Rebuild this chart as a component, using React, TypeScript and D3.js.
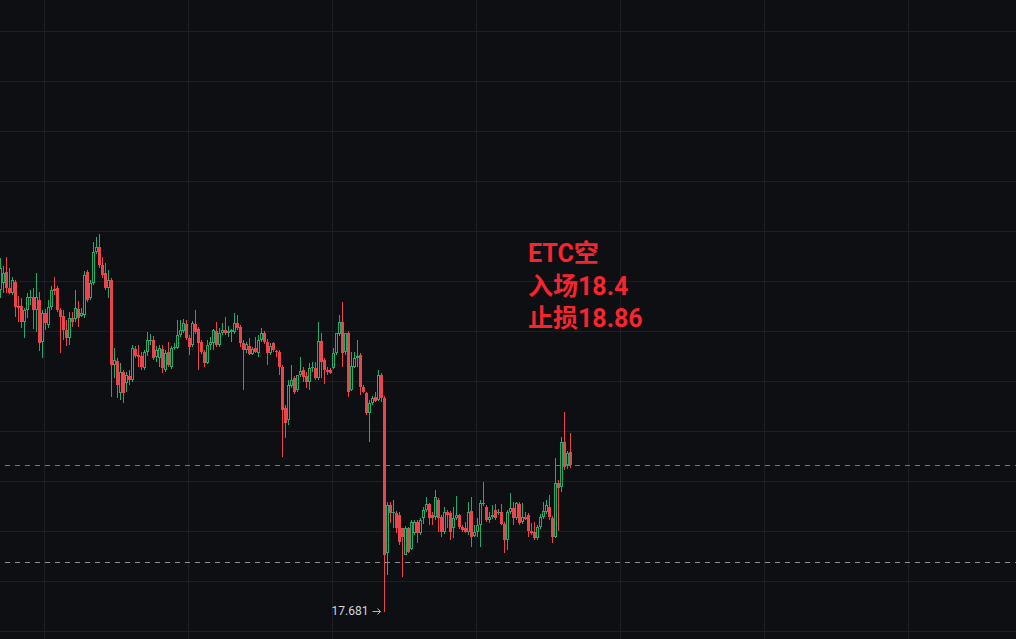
import React from "react";
import * as d3 from "d3";

const opens = [19.29,19.325,19.38,19.30,19.275,19.33,19.21,19.21,19.13,19.19,
19.25,19.255,19.19,19.24,19.03,19.175,19.115,19.205,19.295,19.30,
19.19,19.16,19.09,19.05,19.15,19.145,19.195,19.16,19.165,19.38,
19.25,19.325,19.48,19.505,19.415,19.375,19.30,19.34,18.915,18.935,
18.775,18.88,18.825,18.86,18.84,18.995,18.965,18.96,18.90,18.98,
19.035,19.04,18.955,18.95,18.995,18.89,18.98,18.905,19.00,19.00,
19.065,19.085,19.12,19.05,19.015,19.12,19.095,19.03,18.98,18.925,
19.015,19.025,19.085,19.015,19.075,19.09,19.075,19.08,19.08,19.125,
19.105,19.025,18.99,19.01,18.97,19.00,18.975,19.04,19.075,19.03,
18.975,19.025,18.985,18.98,18.905,18.70,18.64,18.81,18.85,18.79,
18.865,18.89,18.86,18.83,18.90,18.90,18.85,19.035,18.94,18.89,
18.89,18.90,18.975,19.07,19.13,18.98,19.075,18.79,18.905,18.95,
18.965,18.805,18.775,18.675,18.725,18.755,18.74,18.865,18.75,17.975,
18.215,18.175,18.175,18.165,18.10,17.965,18.10,17.995,18.075,18.13,
18.075,18.15,18.19,18.22,18.165,18.155,18.24,18.155,18.08,18.18,
18.175,18.10,18.15,18.165,18.105,18.10,18.08,18.185,18.06,18.08,
18.115,18.22,18.205,18.14,18.155,18.19,18.175,18.18,18.12,18.04,
18.18,18.20,18.15,18.22,18.13,18.155,18.165,18.085,18.08,18.05,
18.105,18.155,18.18,18.205,18.15,18.055,18.325,18.305,18.53,18.415,
18.48];

const highs = [19.45,19.41,19.455,19.40,19.355,19.34,19.26,19.25,19.20,19.275,
19.29,19.30,19.375,19.28,19.19,19.195,19.24,19.31,19.355,19.31,
19.20,19.19,19.14,19.18,19.18,19.29,19.235,19.20,19.385,19.39,
19.34,19.53,19.555,19.57,19.455,19.425,19.39,19.35,19.00,18.95,
18.925,18.89,18.88,18.89,19.015,19.01,19.015,18.98,18.99,19.08,
19.07,19.06,19.01,19.015,19.015,18.99,19.03,19.01,19.025,19.14,
19.14,19.145,19.14,19.065,19.135,19.19,19.105,19.04,18.99,19.04,
19.055,19.095,19.13,19.10,19.125,19.155,19.11,19.095,19.175,19.165,
19.115,19.04,19.03,19.05,19.005,19.055,19.065,19.10,19.085,19.045,
19.025,19.03,18.99,18.99,18.915,18.715,18.84,18.915,18.86,18.865,
18.955,18.905,18.88,18.925,18.93,18.93,19.13,19.075,18.95,18.905,
18.90,19.00,19.075,19.165,19.23,19.075,19.085,18.98,18.98,19.04,
18.975,18.815,18.78,18.74,18.76,18.78,18.89,18.875,18.76,18.23,
18.23,18.24,18.185,18.18,18.10,18.11,18.105,18.14,18.14,18.14,
18.15,18.205,18.255,18.225,18.18,18.29,18.25,18.165,18.205,18.19,
18.185,18.205,18.26,18.17,18.115,18.13,18.23,18.255,18.115,18.15,
18.24,18.33,18.215,18.18,18.215,18.22,18.195,18.22,18.13,18.19,
18.275,18.23,18.23,18.23,18.225,18.18,18.175,18.125,18.13,18.115,
18.17,18.23,18.24,18.265,18.16,18.45,18.34,18.555,18.68,18.485,
18.575];

const lows = [19.25,19.275,19.275,19.27,19.265,19.155,19.13,19.10,19.05,19.15,
19.215,19.095,19.08,18.985,18.95,19.09,19.10,19.19,19.265,19.18,
18.975,19.04,19.01,19.015,19.105,19.13,19.105,19.155,19.15,19.23,
19.24,19.315,19.47,19.40,19.35,19.29,19.25,18.755,18.85,18.75,
18.74,18.725,18.78,18.815,18.83,18.95,18.905,18.89,18.89,18.96,
19.015,18.94,18.93,18.905,18.875,18.88,18.905,18.895,18.99,18.995,
19.055,19.075,19.04,18.965,19.005,19.07,18.89,18.97,18.905,18.92,
18.99,18.99,19.005,19.005,19.065,19.065,19.055,19.03,19.07,19.09,
19.005,18.79,18.975,18.965,18.965,18.975,18.955,19.03,19.02,18.915,
18.965,18.98,18.955,18.865,18.455,18.55,18.615,18.80,18.77,18.78,
18.855,18.83,18.80,18.79,18.88,18.84,18.84,18.85,18.82,18.865,
18.87,18.895,18.965,19.06,18.905,18.965,18.755,18.785,18.90,18.905,
18.765,18.775,18.665,18.53,18.715,18.73,18.735,18.73,17.681,17.865,
18.125,18.10,18.075,18.015,17.855,17.965,17.975,17.99,18.065,18.025,
18.065,18.12,18.18,18.115,18.115,18.14,18.08,18.055,18.07,18.10,
18.04,18.05,18.14,18.095,18.08,18.075,18.065,18.005,18.055,18.055,
18.005,18.21,18.13,18.125,18.145,18.14,18.165,18.115,17.975,17.99,
18.17,18.115,18.14,18.115,18.12,18.14,18.055,18.065,18.04,18.04,
18.095,18.145,18.17,18.14,18.025,18.05,18.085,18.28,18.39,18.395,
18.40];

const closes = [19.40,19.375,19.30,19.275,19.34,19.205,19.20,19.13,19.19,19.255,
19.255,19.19,19.255,19.025,19.175,19.125,19.205,19.29,19.285,19.19,
19.155,19.09,19.05,19.15,19.13,19.20,19.15,19.175,19.365,19.24,
19.325,19.48,19.505,19.415,19.365,19.30,19.34,18.915,18.94,18.815,
18.88,18.775,18.865,18.84,19.00,18.96,18.955,18.905,18.98,19.04,
19.04,18.95,18.99,19.00,18.90,18.975,18.915,19.00,19.005,19.065,
19.09,19.125,19.05,19.005,19.125,19.08,19.025,18.98,18.925,19.015,
19.03,19.09,19.015,19.075,19.09,19.075,19.085,19.09,19.125,19.10,
19.025,18.99,19.02,18.97,18.995,18.98,19.04,19.075,19.03,18.975,
19.01,18.99,18.98,18.905,18.69,18.625,18.815,18.84,18.78,18.865,
18.885,18.855,18.83,18.90,18.905,18.85,19.035,18.93,18.89,18.88,
18.875,18.975,19.075,19.13,18.975,19.075,18.78,18.91,18.95,18.96,
18.805,18.78,18.675,18.725,18.75,18.735,18.865,18.75,17.965,18.215,
18.175,18.18,18.10,18.03,18.055,18.10,17.98,18.13,18.13,18.075,
18.14,18.19,18.22,18.15,18.15,18.255,18.15,18.08,18.18,18.165,
18.08,18.15,18.165,18.105,18.09,18.08,18.18,18.055,18.08,18.115,
18.225,18.225,18.14,18.155,18.165,18.15,18.18,18.12,18.04,18.18,
18.20,18.15,18.225,18.125,18.155,18.145,18.085,18.075,18.05,18.105,
18.155,18.185,18.215,18.155,18.055,18.325,18.30,18.53,18.405,18.475,
18.415];

const annotationLines = ["ETC空", "入场18.4", "止损18.86"];
const markerLevel = 17.93;
const gridPrices = d3.range(20.5825, 17.4, -0.25);
const gridBars = d3.range(14.75, 340, 48);

const W = 1016;
const H = 639;
const BG = "#0e0f12";
const GRID = "#1d1f23";
const UP = "#22ab6c";
const DOWN = "#e8464c";
const TEXT_RED = "#f7252f";

export default function App() {
  const n = closes.length;
  const x = d3.scaleLinear().domain([0, n - 1]).range([0, 570]);
  const y = d3.scaleLinear().domain([17.545, 20.74]).range([H, 0]);
  const ry = (v: number) => Math.round(y(v));

  const lowIdx = d3.minIndex(lows);
  const lowVal = lows[lowIdx];
  const lastClose = closes[n - 1];
  const lastColor = closes[n - 1] >= opens[n - 1] ? UP : DOWN;

  const candles = closes.map((c, i) => {
    const o = opens[i];
    const cx = Math.round(x(i)) + 0.5;
    const up = c >= o;
    const top = ry(Math.max(o, c));
    const bot = ry(Math.min(o, c));
    const hy = ry(highs[i]);
    const ly = ry(lows[i]);
    if (!up) {
      return (
        <g key={i}>
          <line x1={cx} x2={cx} y1={hy} y2={ly} stroke={DOWN} strokeWidth={1} />
          <rect x={cx - 1.5} y={top} width={3} height={Math.max(1, bot - top)} fill={DOWN} />
        </g>
      );
    }
    const hgt = bot - top;
    return (
      <g key={i}>
        <line x1={cx} x2={cx} y1={hy} y2={top} stroke={UP} strokeWidth={1} />
        <line x1={cx} x2={cx} y1={bot} y2={ly} stroke={UP} strokeWidth={1} />
        {hgt < 3 ? (
          <rect x={cx - 1.5} y={top} width={3} height={Math.max(1, hgt)} fill={UP} />
        ) : (
          <rect x={cx - 1} y={top + 0.5} width={2} height={hgt - 1} fill={BG} stroke={UP} strokeWidth={1} />
        )}
      </g>
    );
  });

  const lowX = Math.round(x(lowIdx)) + 0.5;
  const lowY = ry(lowVal);

  return (
    <svg
      width={W}
      height={H}
      style={{ position: "fixed", left: 0, top: 0, display: "block" }}
    >
      <rect x={0} y={0} width={W} height={H} fill={BG} />
      {gridPrices.map((p, i) => (
        <line key={"h" + i} x1={0} x2={W} y1={Math.floor(y(p)) + 0.5} y2={Math.floor(y(p)) + 0.5} stroke={GRID} strokeWidth={1} />
      ))}
      {gridBars.map((b, i) => (
        <line key={"v" + i} x1={Math.floor(x(b)) + 0.5} x2={Math.floor(x(b)) + 0.5} y1={0} y2={H} stroke={GRID} strokeWidth={1} />
      ))}
      <line x1={5} x2={W} y1={Math.floor(y(lastClose)) + 0.5} y2={Math.floor(y(lastClose)) + 0.5} stroke={lastColor} strokeWidth={1} strokeDasharray="5,5" />
      <line x1={5} x2={W} y1={ry(markerLevel) + 0.5} y2={ry(markerLevel) + 0.5} stroke="#8b8f99" strokeWidth={1} strokeDasharray="5,5" />
      {candles}
      <text
        x={lowX - 16}
        y={lowY + 3}
        textAnchor="end"
        fontFamily="Roboto, 'Noto Sans', sans-serif"
        fontSize={12}
        fill="#d1d4dc"
      >
        {lowVal.toFixed(3)}
      </text>
      <g stroke="#b2b5be" strokeWidth={1} fill="none">
        <line x1={lowX - 12} x2={lowX - 4} y1={lowY - 0.5} y2={lowY - 0.5} />
        <polyline points={`${lowX - 7},${lowY - 3.5} ${lowX - 4},${lowY - 0.5} ${lowX - 7},${lowY + 2.5}`} />
      </g>
      {annotationLines.map((t, i) => (
        <text
          key={"t" + i}
          x={528}
          y={262 + i * 32.5}
          fontFamily="Roboto, 'Noto Sans CJK SC', sans-serif"
          fontWeight={700}
          fontSize={25}
          fill={TEXT_RED}
        >
          {t}
        </text>
      ))}
    </svg>
  );
}
